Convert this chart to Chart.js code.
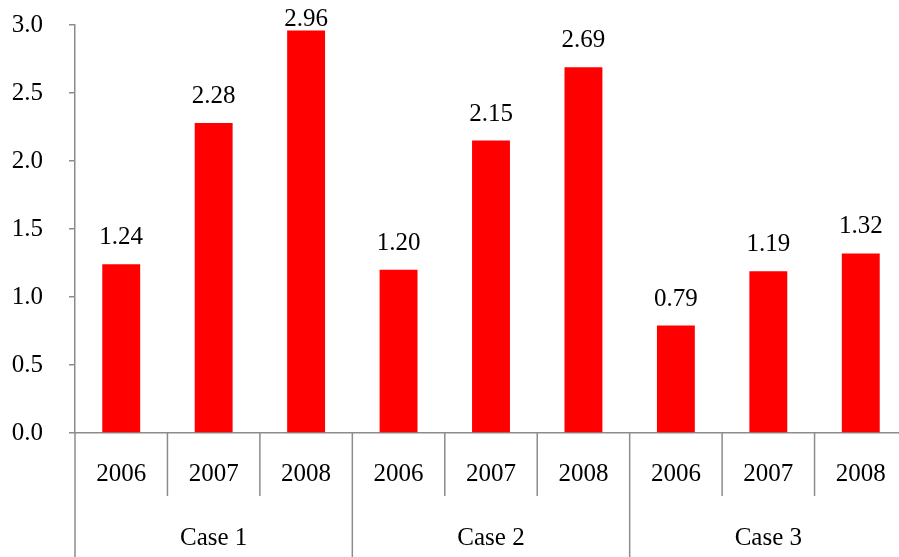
<!DOCTYPE html>
<html>
<head>
<meta charset="utf-8">
<script src="https://cdn.jsdelivr.net/npm/chart.js@4.4.0/dist/chart.umd.min.js"></script>
<style>
  html, body { margin: 0; padding: 0; background: #fff; overflow: hidden; }
  #wrap { width: 907px; height: 557px; }
</style>
</head>
<body>
<div id="wrap"><canvas id="chart"></canvas></div>
<script>
// data
const years = ['2006', '2007', '2008', '2006', '2007', '2008', '2006', '2007', '2008'];
const groups = ['Case 1', 'Case 2', 'Case 3'];
const groupSize = 3;
const values = [1.24, 2.28, 2.96, 1.20, 2.15, 2.69, 0.79, 1.19, 1.32];
const yTicks = [0, 0.5, 1.0, 1.5, 2.0, 2.5, 3.0];

const axisColor = '#8c8c8c';
const fontFamily = '"Liberation Serif", "Times New Roman", serif';
const fontSize = 25;

// value labels above each bar
const valueLabels = {
    id: 'valueLabels',
    afterDatasetsDraw(chart) {
        const ctx = chart.ctx;
        const meta = chart.getDatasetMeta(0);
        const top = chart.chartArea.top;
        ctx.save();
        ctx.font = fontSize + 'px ' + fontFamily;
        ctx.fillStyle = '#000';
        ctx.textAlign = 'center';
        ctx.textBaseline = 'alphabetic';
        meta.data.forEach((bar, i) => {
            ctx.fillText(values[i].toFixed(2), bar.x, Math.max(bar.y - 20, top + 1));
        });
        ctx.restore();
    }
};

// separators between years and cases, plus case labels
const groupAxis = {
    id: 'groupAxis',
    afterDraw(chart) {
        const ctx = chart.ctx;
        const x = chart.scales.x;
        const bottom = chart.chartArea.bottom;
        const half = (x.getPixelForValue(1) - x.getPixelForValue(0)) / 2;
        ctx.save();
        ctx.strokeStyle = axisColor;
        ctx.lineWidth = 1.5;
        for (let i = 0; i <= years.length; i++) {
            const px = x.getPixelForValue(i) - half;
            const isGroup = i % groupSize === 0;
            ctx.beginPath();
            ctx.moveTo(px, bottom);
            ctx.lineTo(px, isGroup ? chart.height : bottom + 63);
            ctx.stroke();
        }
        ctx.font = fontSize + 'px ' + fontFamily;
        ctx.fillStyle = '#000';
        ctx.textAlign = 'center';
        ctx.textBaseline = 'middle';
        groups.forEach((g, k) => {
            const first = x.getPixelForValue(k * groupSize);
            const last = x.getPixelForValue(k * groupSize + groupSize - 1);
            ctx.fillText(g, (first + last) / 2, bottom + 105);
        });
        ctx.restore();
    }
};

const ctx = document.getElementById('chart').getContext('2d');
const myChart = new Chart(ctx, {
    type: 'bar',
    data: {
        labels: years,
        datasets: [{
            data: values,
            backgroundColor: '#ff0000',
            borderWidth: 0,
            barPercentage: 0.41,
            categoryPercentage: 1.0
        }]
    },
    options: {
        responsive: true,
        maintainAspectRatio: false,
        animation: false,
        layout: { padding: { top: 25, right: 0, bottom: 50, left: 0 } },
        plugins: {
            legend: { display: false },
            tooltip: { enabled: false }
        },
        scales: {
            x: {
                offset: true,
                afterFit(axis) {
                    axis.paddingLeft = 0;
                    axis.paddingRight = 0;
                },
                grid: { display: false },
                border: { display: true, color: axisColor, width: 1.5 },
                ticks: {
                    color: '#000',
                    font: { family: fontFamily, size: fontSize },
                    padding: 18,
                    maxRotation: 0,
                    autoSkip: false
                }
            },
            y: {
                min: 0,
                max: 3,
                afterBuildTicks(axis) {
                    axis.ticks = yTicks.map(v => ({ value: v }));
                },
                afterFit(axis) {
                    axis.width = 75;
                    axis.paddingTop = 0;
                    axis.paddingBottom = 0;
                },
                grid: {
                    drawOnChartArea: false,
                    drawTicks: true,
                    tickLength: 6,
                    color: axisColor,
                    lineWidth: 1.5
                },
                border: { display: true, color: axisColor, width: 1.5 },
                ticks: {
                    color: '#000',
                    font: { family: fontFamily, size: fontSize },
                    padding: 26,
                    callback: v => v.toFixed(1)
                }
            }
        }
    },
    plugins: [valueLabels, groupAxis]
});
</script>
</body>
</html>
